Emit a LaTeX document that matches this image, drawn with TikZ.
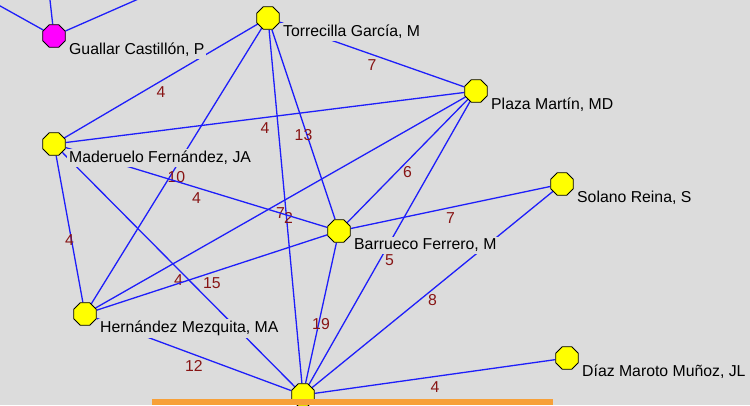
\documentclass[tikz,border=0pt]{standalone}
\usepackage{fontspec}
\setmainfont{Liberation Sans}
\usetikzlibrary{shapes.geometric}
\pgfdeclarelayer{back}
\pgfdeclarelayer{edges}
\pgfsetlayers{back,edges,main}
\definecolor{bgc}{RGB}{220,220,220}
\definecolor{edgec}{RGB}{30,30,250}
\definecolor{wtc}{RGB}{135,20,20}
\definecolor{barc}{RGB}{247,160,56}
\definecolor{nodey}{RGB}{255,255,0}
\definecolor{nodem}{RGB}{255,0,255}
\begin{document}
\begin{tikzpicture}[x=1pt,y=-1pt,
  actor/.style={regular polygon, regular polygon sides=8, minimum size=24.5pt, inner sep=0pt, draw=black, line width=0.8pt, fill=nodey},
  namelbl/.style={anchor=base west, inner sep=2pt, fill=bgc, text=black, font=\fontsize{15.8}{18}\selectfont},
  link/.style={draw=edgec, line width=1.3pt},
  wt/.style={midway, yshift=-11pt, text=wtc, inner sep=0pt, font=\fontsize{15.8}{18}\selectfont}
]
\useasboundingbox (0,0) rectangle (750,405);
\begin{pgfonlayer}{back}
  \fill[bgc] (0,0) rectangle (750,405);
\end{pgfonlayer}

% actors
\node[actor, fill=nodem] (G) at (54,36) {};
\node[actor] (T) at (268,18) {};
\node[actor] (P) at (476,91) {};
\node[actor] (M) at (54,144) {};
\node[actor] (S) at (562,184) {};
\node[actor] (B) at (339,231) {};
\node[actor] (H) at (85,314) {};
\node[actor] (X) at (303,395) {};
\node[actor] (D) at (567,358) {};

% off-canvas ends
\coordinate (g1) at (266,-57);
\coordinate (g2) at (45,-45);
\coordinate (g3) at (-50,-22);

% names
\node[namelbl] (Gl) at (67,54.5) {Guallar Castillón, P};
\node[namelbl] (Tl) at (281,36.5) {Torrecilla García, M};
\node[namelbl] (Pl) at (489,109.5) {Plaza Martín, MD};
\node[namelbl] (Ml) at (67,162.5) {Maderuelo Fernández, JA};
\node[namelbl] (Sl) at (575,202.5) {Solano Reina, S};
\node[namelbl] (Bl) at (352,249.5) {Barrueco Ferrero, M};
\node[namelbl] (Hl) at (98,332.5) {Hernández Mezquita, MA};
\node[namelbl] (Dl) at (580,376.5) {Díaz Maroto Muñoz, JL};

\begin{pgfonlayer}{edges}
  \draw[link] (G) -- (g1);
  \draw[link] (G) -- (g2);
  \draw[link] (G) -- (g3);
  \draw[link] (T) -- node[wt]{4} (M);
  \draw[link] (T) -- node[wt]{7} (P);
  \draw[link] (T) -- node[wt]{10} (H);
  \draw[link] (T) -- node[wt]{13} (B);
  \draw[link] (T) -- node[wt, xshift=3pt]{2} (X);
  \draw[link] (P) -- node[wt]{4} (M);
  \draw[link] (P) -- node[wt]{6} (B);
  \draw[link] (P) -- node[wt]{7} (H);
  \draw[link] (P) -- node[wt, yshift=-6pt]{5} (X);
  \draw[link] (M) -- node[wt]{4} (B);
  \draw[link] (M) -- node[wt]{4} (H);
  \draw[link] (M) -- node[wt]{4} (X);
  \draw[link] (B) -- node[wt]{15} (H);
  \draw[link] (B) -- node[wt]{7} (S);
  \draw[link] (B) -- node[wt]{19} (X);
  \draw[link] (H) -- node[wt]{12} (X);
  \draw[link] (S) -- node[wt]{8} (X);
  \draw[link] (D) -- node[wt]{4} (X);
\end{pgfonlayer}

\fill[barc] (152,399) rectangle (553,405);
\end{tikzpicture}
\end{document}
